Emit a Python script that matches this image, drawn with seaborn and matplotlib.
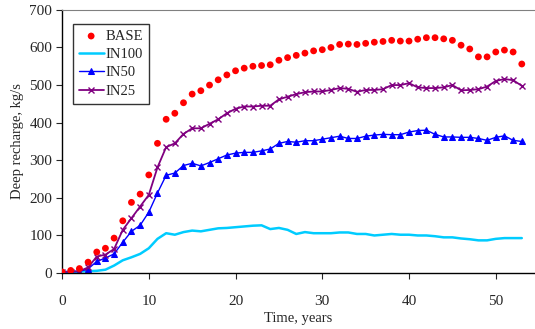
import numpy as np
import pandas as pd
import seaborn as sns
import matplotlib.pyplot as plt

years = list(range(0, 54))

base = [3, 7, 12, 29, 56, 66, 93, 139, 188, 210,
        261, 345, 409, 425, 453, 476, 485, 500, 514, 527,
        538, 545, 550, 552, 554, 566, 573, 579, 585, 591,
        594, 600, 608, 609, 608, 611, 614, 616, 619, 617,
        617, 622, 626, 626, 623, 619, 606, 596, 575, 575,
        588, 593, 588, 556]

in100 = [3, 3, 4, 5, 6, 9, 20, 34, 42, 51,
         66, 91, 106, 102, 109, 113, 111, 115, 119, 120,
         122, 124, 126, 127, 117, 120, 115, 104, 109, 106,
         106, 106, 108, 108, 104, 104, 100, 102, 104, 102,
         102, 100, 100, 98, 95, 95, 92, 90, 87, 87,
         91, 93, 93, 93]

in50 = [3, 4, 4, 11, 31, 40, 51, 82, 111, 127,
        162, 213, 260, 266, 286, 292, 285, 294, 304, 314,
        319, 321, 321, 325, 330, 345, 350, 348, 352, 352,
        356, 360, 364, 358, 358, 364, 367, 369, 368, 368,
        375, 379, 380, 369, 362, 362, 361, 361, 358, 353,
        361, 365, 353, 350]

in25 = [3, 4, 5, 15, 44, 49, 64, 115, 146, 177,
        208, 281, 335, 345, 370, 385, 385, 397, 409, 425,
        437, 443, 443, 445, 445, 462, 469, 476, 481, 483,
        483, 487, 492, 490, 482, 487, 487, 489, 500, 500,
        505, 494, 492, 492, 494, 500, 486, 487, 489, 496,
        511, 516, 513, 498]

df = pd.DataFrame({'year': years, 'BASE': base, 'IN100': in100, 'IN50': in50, 'IN25': in25})

sns.set_style('ticks')
plt.rcParams['font.family'] = ['Liberation Serif', 'DejaVu Serif']

fig = plt.figure(figsize=(5.35, 3.29), dpi=100)
ax = fig.add_axes([0.116, 0.170, 0.882, 0.800])

sns.scatterplot(data=df, x='year', y='BASE', ax=ax, color='#ff0000', s=24,
                edgecolor='none', label='BASE', zorder=3)
sns.lineplot(data=df, x='year', y='IN100', ax=ax, color='#00ccff', lw=1.8, label='IN100')
sns.lineplot(data=df, x='year', y='IN50', ax=ax, color='#0000ff', lw=1, marker='^',
             markersize=4.5, markeredgecolor='#0000ff', label='IN50')
sns.lineplot(data=df, x='year', y='IN25', ax=ax, color='#800080', lw=1.3, marker='x',
             markersize=5, markeredgecolor='#800080', markeredgewidth=1, label='IN25')

ax.set_xlim(0, 54.4)
ax.set_ylim(0, 700)
ax.set_xticks([0, 10, 20, 30, 40, 50])
ax.set_yticks(range(0, 701, 100))
ax.tick_params(axis='x', labelsize=11, length=4, pad=12, direction='out')
ax.tick_params(axis='y', labelsize=11, length=4, pad=3, direction='out')
ax.set_xlabel('Time, years', fontsize=10.5, labelpad=3)
ax.set_ylabel('Deep recharge, kg/s', fontsize=10.5, labelpad=4)

ax.spines['right'].set_visible(False)
ax.spines['top'].set_color('#808080')
for s in ['left', 'bottom']:
    ax.spines[s].set_color('black')
    ax.spines[s].set_linewidth(1)

leg = ax.legend(loc='upper left', bbox_to_anchor=(0.023, 0.947), fontsize=10.5,
                frameon=True, fancybox=False, handlelength=1.7, handletextpad=0.15,
                borderpad=0.4, labelspacing=0.35, borderaxespad=0)
leg.get_frame().set_edgecolor('black')
leg.get_frame().set_linewidth(1)

fig.savefig('out.png', dpi=100)
